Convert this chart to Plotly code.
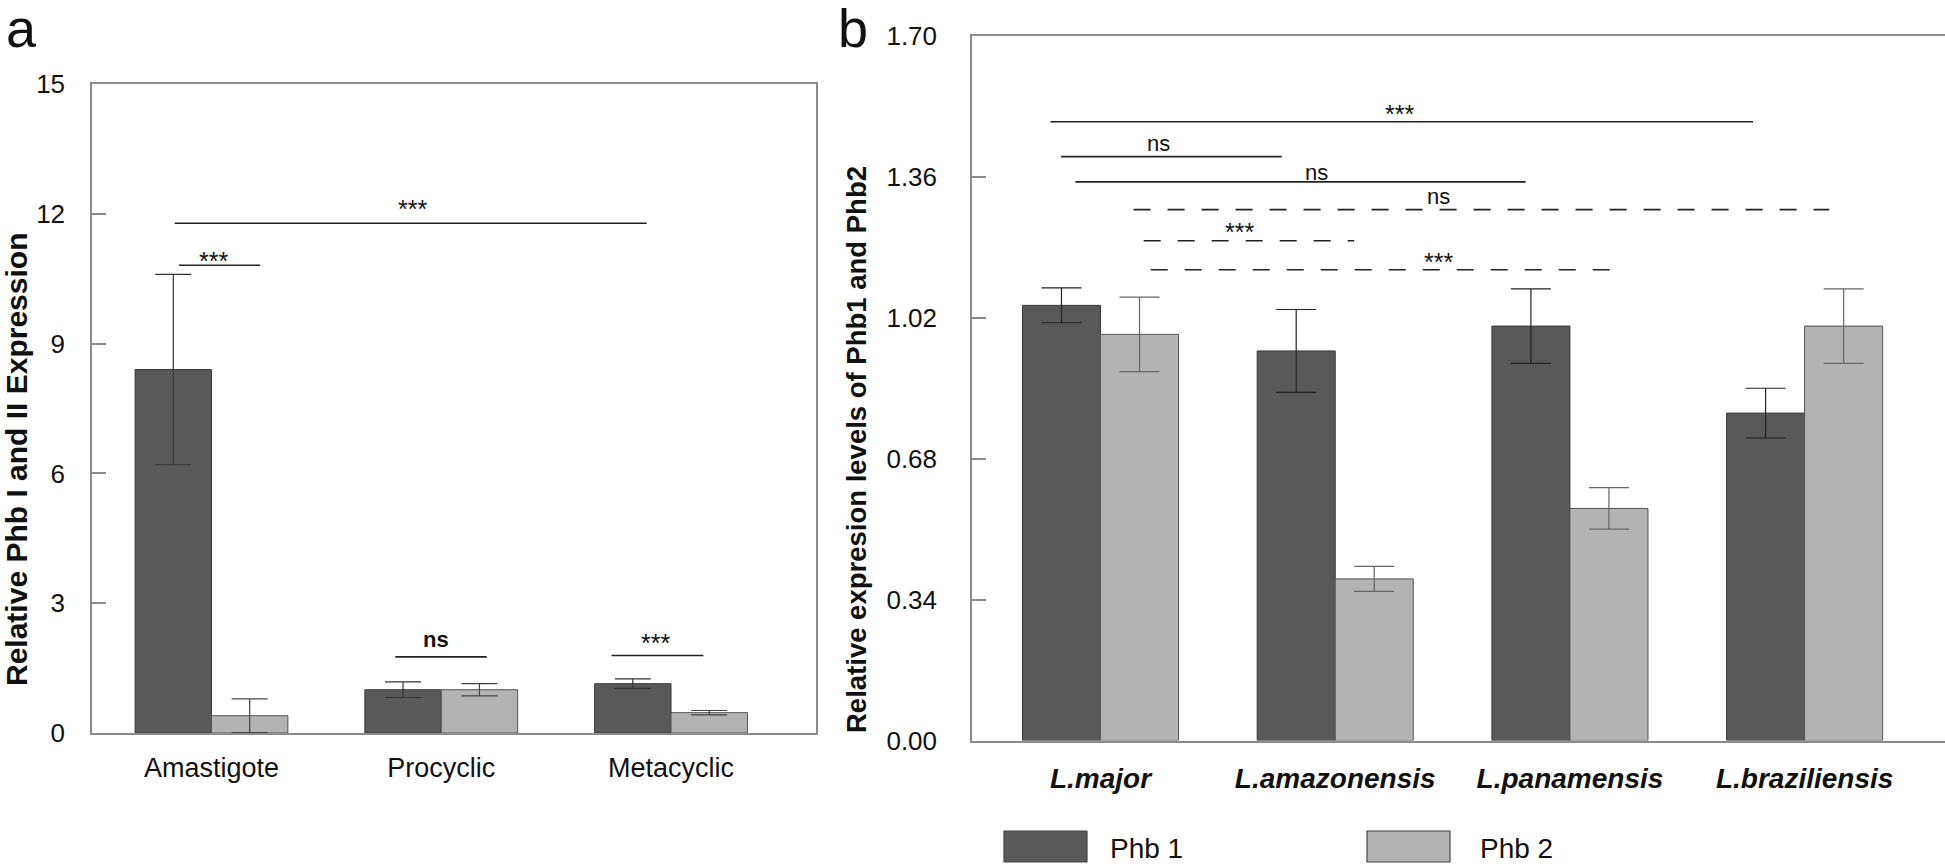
import plotly.graph_objects as go

# ---------------- data: panel a ----------------
stages = ["Amastigote", "Procyclic", "Metacyclic"]
a_phb1 = [8.4, 1.0, 1.14]
a_phb1_err = [2.2, 0.18, 0.11]
a_phb2 = [0.40, 1.0, 0.47]
a_phb2_err = [0.39, 0.14, 0.05]
a_yticks = [0, 3, 6, 9, 12, 15]

# significance brackets panel a (x in category units)
a_sig_x0 = [-0.160, -0.141, 0.800, 1.741]
a_sig_x1 = [1.894, 0.212, 1.198, 2.141]
a_sig_y = [11.78, 10.81, 1.76, 1.79]
a_sig_text = ["***", "***", "<b>ns</b>", "***"]
a_sig_tx = [0.873, 0.007, 0.978, 1.932]
a_sig_ty = [12.12, 10.91, 2.15, 2.09]

# ---------------- data: panel b ----------------
species = ["L.major", "L.amazonensis", "L.panamensis", "L.braziliensis"]
b_phb1 = [1.05, 0.94, 1.00, 0.79]
b_phb1_err = [0.042, 0.10, 0.09, 0.06]
b_phb2 = [0.98, 0.39, 0.56, 1.00]
b_phb2_err = [0.09, 0.03, 0.05, 0.09]
b_yticks = [0.00, 0.34, 0.68, 1.02, 1.36, 1.70]
b_ytick_text = ["0.00", "0.34", "0.68", "1.02", "1.36", "1.70"]

b_sig_x0 = [-0.213, -0.168, -0.107, 0.141, 0.184, 0.214]
b_sig_x1 = [2.780, 0.772, 1.811, 3.105, 1.081, 2.190]
b_sig_y = [1.493, 1.409, 1.348, 1.281, 1.206, 1.136]
b_sig_dash = ["solid", "solid", "solid", "17px,17px", "17px,17px", "17px,17px"]
b_sig_text = ["***", "ns", "ns", "ns", "***", "***"]
b_sig_tx = [1.272, 0.245, 0.922, 1.438, 0.593, 1.438]
b_sig_ty = [1.511, 1.440, 1.370, 1.313, 1.226, 1.155]

legend_names = ["Phb 1", "Phb 2"]

DARK = "#595959"
LIGHT = "#b3b3b3"
EDGE = "#3a3a3a"
AXC = "#8c8c8c"
FONT = "Liberation Sans, Arial, sans-serif"

W, H = 1945, 866

fig = go.Figure()

# panel a bars
fig.add_trace(go.Bar(x=stages, y=a_phb1, name=legend_names[0], marker=dict(color=DARK, line=dict(color=EDGE, width=1)),
                     error_y=dict(type="data", array=a_phb1_err, color="#333333", thickness=1.2, width=18),
                     xaxis="x", yaxis="y", showlegend=False))
fig.add_trace(go.Bar(x=stages, y=a_phb2, name=legend_names[1], marker=dict(color=LIGHT, line=dict(color="#555555", width=1)),
                     error_y=dict(type="data", array=a_phb2_err, color="#444444", thickness=1.2, width=18),
                     xaxis="x", yaxis="y", showlegend=False))
# panel b bars
fig.add_trace(go.Bar(x=species, y=b_phb1, name=legend_names[0], marker=dict(color=DARK, line=dict(color=EDGE, width=1)),
                     error_y=dict(type="data", array=b_phb1_err, color="#222222", thickness=1.2, width=20),
                     xaxis="x2", yaxis="y2", showlegend=False))
fig.add_trace(go.Bar(x=species, y=b_phb2, name=legend_names[1], marker=dict(color=LIGHT, line=dict(color="#555555", width=1)),
                     error_y=dict(type="data", array=b_phb2_err, color="#666666", thickness=1.2, width=20),
                     xaxis="x2", yaxis="y2", showlegend=False))

def sig_font(t):
    return dict(family=FONT, size=25 if "*" in t else 22, color="#111111")

shapes = []
annotations = []
for x0, x1, y, t, tx, ty in zip(a_sig_x0, a_sig_x1, a_sig_y, a_sig_text, a_sig_tx, a_sig_ty):
    shapes.append(dict(type="line", xref="x", yref="y", x0=x0, x1=x1, y0=y, y1=y,
                       line=dict(color="#222222", width=1.6)))
    annotations.append(dict(xref="x", yref="y", x=tx, y=ty, text=t, showarrow=False,
                            font=sig_font(t), xanchor="center", yanchor="middle"))
for x0, x1, y, d, t, tx, ty in zip(b_sig_x0, b_sig_x1, b_sig_y, b_sig_dash, b_sig_text, b_sig_tx, b_sig_ty):
    shapes.append(dict(type="line", xref="x2", yref="y2", x0=x0, x1=x1, y0=y, y1=y,
                       line=dict(color="#222222", width=1.6, dash=d)))
    annotations.append(dict(xref="x2", yref="y2", x=tx, y=ty, text=t, showarrow=False,
                            font=sig_font(t), xanchor="center", yanchor="middle"))

# legend (manual, below panel b)
leg_boxes = [(1004, 1087, DARK), (1367, 1450, LIGHT)]
leg_text_x = [1108, 1478]
for (bx0, bx1, col), tx, name in zip(leg_boxes, leg_text_x, legend_names):
    shapes.append(dict(type="rect", xref="paper", yref="paper", x0=bx0 / W, x1=bx1 / W,
                       y0=1 - 862 / H, y1=1 - 831 / H, fillcolor=col, line=dict(color="#444444", width=1.2)))
    annotations.append(dict(xref="paper", yref="paper", x=tx / W, y=1 - 848 / H, text=name, showarrow=False,
                            font=dict(family=FONT, size=28, color="#111111"), xanchor="left", yanchor="middle"))

# axis titles
annotations.append(dict(xref="paper", yref="paper", x=17 / W, y=1 - 460 / H, text="<b>Relative Phb I and II Expression</b>",
                        textangle=-90, showarrow=False, font=dict(family=FONT, size=30, color="#111111"),
                        xanchor="center", yanchor="middle"))
annotations.append(dict(xref="paper", yref="paper", x=856 / W, y=1 - 450 / H, text="<b>Relative expresion levels of Phb1 and Phb2</b>",
                        textangle=-90, showarrow=False, font=dict(family=FONT, size=27.5, color="#111111"),
                        xanchor="center", yanchor="middle"))
# panel letters
annotations.append(dict(xref="paper", yref="paper", x=4 / W, y=1 - 28 / H, text="a", showarrow=False,
                        font=dict(family=FONT, size=54, color="#111111"), xanchor="left", yanchor="middle"))
annotations.append(dict(xref="paper", yref="paper", x=836 / W, y=1 - 28 / H, text="b", showarrow=False,
                        font=dict(family=FONT, size=54, color="#111111"), xanchor="left", yanchor="middle"))

fig.update_layout(
    width=W, height=H,
    margin=dict(l=0, r=0, t=0, b=0, autoexpand=False),
    paper_bgcolor="white", plot_bgcolor="white",
    barmode="group", bargap=0.335, bargroupgap=0,
    shapes=shapes, annotations=annotations,
    font=dict(family=FONT, color="#111111"),
    xaxis=dict(domain=[92 / W, 816 / W], range=[-0.520, 2.631], showline=True, linecolor=AXC, linewidth=1.5,
               mirror=True, ticks="", showgrid=False, zeroline=False, automargin=False,
               tickfont=dict(family=FONT, size=27, color="#111111"), ticklabelstandoff=10),
    yaxis=dict(domain=[1 - 733 / H, 1 - 84 / H], range=[0, 15], tickvals=a_yticks, showline=True, linecolor=AXC,
               linewidth=1.5, mirror=True, ticks="inside", ticklen=14, tickcolor=AXC, tickwidth=1.5,
               showgrid=False, zeroline=False, automargin=False, tickfont=dict(family=FONT, size=26, color="#111111"),
               ticklabelstandoff=20),
    xaxis2=dict(domain=[972 / W, 1.0], range=[-0.5475, 3.598], showline=True, linecolor=AXC, linewidth=1.5,
                mirror=True, ticks="", showgrid=False, zeroline=False, anchor="y2", automargin=False,
                tickfont=dict(family=FONT, size=28, color="#111111"), ticklabelstandoff=12,
                ticktext=["<b><i>" + s + "</i></b>" for s in species], tickvals=species),
    yaxis2=dict(domain=[1 - 740.5 / H, 1 - 36 / H], range=[0, 1.70], tickvals=b_yticks, ticktext=b_ytick_text,
                showline=True, linecolor=AXC, linewidth=1.5, mirror=False, ticks="inside", ticklen=14,
                tickcolor=AXC, tickwidth=1.5, showgrid=False, zeroline=False, anchor="x2", automargin=False,
                tickfont=dict(family=FONT, size=26, color="#111111"), ticklabelstandoff=28),
)

fig.write_html("out.html", config={"displayModeBar": False},
               post_script="document.body.style.margin='0px';document.body.style.overflow='hidden';")
